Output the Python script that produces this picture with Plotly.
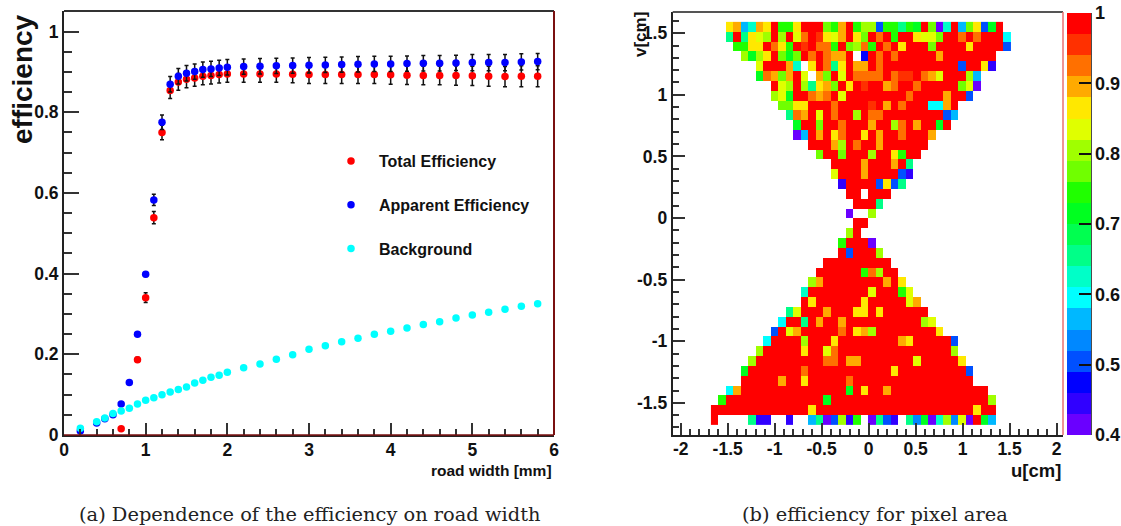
import plotly.graph_objects as go

# ---------- left panel data ----------
road_width_total = [0.7,0.9,1.0,1.1,1.2,1.3,1.4,1.5,1.6,1.7,1.8,1.9,2.0,2.2,2.4,2.6,2.8,3.0,3.2,3.4,3.6,3.8,4.0,4.2,4.4,4.6,4.8,5.0,5.2,5.4,5.6,5.8]
total_eff = [.0157,.1868,.3405,.5388,.7496,.8538,.8753,.8819,.8852,.8893,.891,.8935,.8951,.8951,.8951,.8951,.8943,.8935,.8935,.8935,.8935,.8935,.8927,.8918,.891,.891,.891,.8902,.8893,.8885,.8893,.8893]
total_err = [.002,.006,.012,.015,.018,.02,.021,.021,.021,.021,.021,.021,.021,.021,.021,.021,.021,.022,.022,.022,.022,.022,.023,.023,.023,.023,.024,.024,.025,.025,.026,.026]

road_width_apparent = [0.2,0.4,0.5,0.6,0.7,0.8,0.9,1.0,1.1,1.2,1.3,1.4,1.5,1.6,1.7,1.8,1.9,2.0,2.2,2.4,2.6,2.8,3.0,3.2,3.4,3.6,3.8,4.0,4.2,4.4,4.6,4.8,5.0,5.2,5.4,5.6,5.8]
apparent_eff = [.01,.03,.04,.05,.077,.13,.25,.3986,.5827,.7753,.8694,.8893,.8967,.9008,.9058,.9075,.91,.9116,.9133,.9141,.915,.9158,.9165,.9174,.9182,.919,.9198,.9198,.9207,.9215,.9215,.9223,.9231,.9231,.9231,.9248,.9256]
apparent_err = [.001,.001,.001,.002,.002,.003,.004,.006,.014,.018,.019,.019,.019,.019,.019,.019,.019,.019,.019,.019,.019,.019,.019,.019,.019,.019,.019,.019,.019,.019,.019,.019,.02,.02,.02,.02,.02]

road_width_bg = road_width_apparent
background = [.0165,.033,.042,.053,.0595,.066,.077,.086,.0925,.1,.1066,.113,.119,.129,.1356,.143,.148,.1554,.167,.176,.1876,.199,.2124,.2215,.2314,.2397,.2496,.2571,.2653,.2736,.281,.2902,.2975,.3042,.3116,.3191,.3256]

# ---------- right panel data: one code per cell, top row first, '.' = empty ----------
level_codes = ["R","r","O","A","Y","L","l","G","g","N","m","M","T","C","c","B","b","D","P","V"]
level_colors = ["#ff0000","#ff3000","#ff7000","#ffaa00","#ffe800","#e0ff00","#a0ff00","#70ff00","#20ff00","#00ff20",
                "#00ff50","#00ff88","#00ffc8","#00ffff","#00b8ff","#0088ff","#0050ff","#0000ff","#3000ff","#6a00ff"]
cell_rows = [
 "..YAcTAYRggYRRRGgARgllbggMgNRGVTRcGYbNR",
 "..MRMYLlRlRLORrYLARYGRORgRRYLLGRRORORRRC",
 "...ggYYROYgRrROOgRGlOgRORYRRRGRRRRYRRRRb",
 "....lNlYRGNGRORO" + "AAR.DRORORRRRR" + "ARRRRRRR",
 "......LRRRAT.YROMYRAAROR" + "RRRRRRRRR" + "bRRYP",
 "......NOAGARL.AGRLR" + "OOOO" + "RO" + "rr" + "ROAL" + "RRRlc",
 "........RLlRlMYAGRYRrRRAORRO" + "RRRRR" + "GLV",
 "........lLNRROAORL" + "RRRRRRRR" + "O" + "RRRR" + "ARRb",
 ".........GGYYRRRORRRRrRARORRRCCAR",
 "..........MOARLRORRlROO" + "RRRRRRRR" + "bc",
 "...........NRRGRRORRRARRlORARRNR",
 "...........VcRARYORRYRARRORRRA",
 ".............RRRAlRORRA" + "RRRRRR",
 "..............GRRGRRRlRRYgRR",
 "................RRRRARRRARM",
 "................LRRRARRRRbP",
 ".................PRRRRbYbM",
 "..................RR.RRR",
 "...................RRRM",
 "..................V..l",
 "...................RR",
 "..................lR",
 ".................gRRRV",
 ".................RbRRRl",
 "...............RRRRRRRRR",
 "..............RRRRRRgOlRR",
 ".............lA" + "RRRRRRRR" + "ARY",
 "............T" + "RRRRRRRR" + "LRRRgL",
 "............RY" + "RRRRRR" + "Y" + "RRRRR" + "LA",
 "..........MLRRRARRRYYRY" + "RRRRRR",
 ".........CRRMRARRA" + "RRRRRRRRRR" + "lL",
 "........bRLA" + "RRRRR" + "ORYAl" + "RRRRRRRR" + "Y",
 ".......C" + "RRRR" + "lRRRY" + "RRRRRRRR" + "AY" + "RRRRR" + "b",
 "......l" + "RRRRR" + "YRRLO" + "RRRRRRRRRRRRRRR" + "l",
 ".....l" + "RRRRRRRRR" + "OORAA" + "RRRRRRR" + "L" + "RRRRR" + "Y",
 "....N" + "RRRRRRR" + "O" + "RRRRRRRRRRR" + "Y" + "RRRRRRRRR" + "b",
 "....RRRRRARRY" + "RRRRR" + "O" + "RRRRRRRRRRRRRRRR",
 "..CA" + "RRRRRRRRRRRRRR" + "NRYRRA" + "RRRRRRRRRRRRR",
 ".g" + "RRRRRRRRRRRRR" + "N" + "RRRRRRRRRRRRRRRRRRRRR" + "l",
 "RRRRRRRRRRRRR" + "Y" + "RRRRRRRRRRRRRRRRRRRRR" + "YRR",
 "R....MPP..P..cMVblPg.VMbP.MBNVTlBLVRNc",
]
N_COLS = 40
tick_vals_bar = [0.4, 0.5, 0.6, 0.7, 0.8, 0.9, 1.0]
tick_text_bar = ["0.4", "0.5", "0.6", "0.7", "0.8", "0.9", "1"]

code_value = {c: 1.0 - 0.03 * (i + 0.5) for i, c in enumerate(level_codes)}
z = [[code_value.get(ch) for ch in row.ljust(N_COLS, ".")] for row in reversed(cell_rows)]

scale = []
for i, c in enumerate(reversed(level_colors)):
    scale += [[i / 20, c], [(i + 1) / 20, c]]

W, H = 1121, 526
def fx(p): return p / W
def fy(p): return 1 - p / H

BOLD = "Liberation Sans, Arial, sans-serif"
SERIF = "DejaVu Serif, serif"

fig = go.Figure()
def errs(arr): return dict(type="data", array=arr, color="#111", thickness=1.5, width=2)
fig.add_trace(go.Scatter(x=road_width_total, y=total_eff, error_y=errs(total_err), mode="markers", name="Total Efficiency",
                         marker=dict(color="#ff0000", size=7.5), legendgroup="a", xaxis="x", yaxis="y"))
fig.add_trace(go.Scatter(x=road_width_apparent, y=apparent_eff, error_y=errs(apparent_err), mode="markers", name="Apparent Efficiency",
                         marker=dict(color="#0000ff", size=7.5), legendgroup="b", xaxis="x", yaxis="y"))
fig.add_trace(go.Scatter(x=road_width_bg, y=background, mode="markers", name="Background",
                         marker=dict(color="#00ffff", size=7.5), legendgroup="c", xaxis="x", yaxis="y"))
fig.add_trace(go.Heatmap(z=z, x0=-1.638, dx=0.0798, y0=-1.64, dy=0.0798, zmin=0.4, zmax=1.0, colorscale=scale,
                         xaxis="x2", yaxis="y2", hoverongaps=False, showlegend=False,
                         colorbar=dict(x=fx(1067), xanchor="left", xref="paper", thickness=24, thicknessmode="pixels",
                                       y=fy(435), yanchor="bottom", yref="paper", len=422 / H, lenmode="fraction",
                                       ypad=0, xpad=0, outlinewidth=0, tickvals=tick_vals_bar, ticktext=tick_text_bar,
                                       ticks="inside", ticklen=12, tickwidth=1.5, tickcolor="#111",
                                       tickfont=dict(family=BOLD, size=18, color="#111", weight="bold"))))

axis_common = dict(showgrid=False, zeroline=False, showline=True, linecolor="#222", linewidth=2,
                   ticks="inside", tickcolor="#333", tickwidth=1.5)
def label(text, px, py, size, family=BOLD, angle=0, xanchor="center", color="#111"):
    return dict(text=text, x=fx(px), y=fy(py), xref="paper", yref="paper", textangle=angle, showarrow=False,
                xanchor=xanchor, yanchor="middle", font=dict(family=family, size=size, color=color))

fig.update_layout(
    width=W, height=H, margin=dict(l=0, r=0, t=0, b=0, autoexpand=False), autosize=False,
    paper_bgcolor="white", plot_bgcolor="white",
    xaxis=dict(domain=[fx(64), fx(554)], range=[0, 6], tickvals=[0, 1, 2, 3, 4, 5, 6], ticklen=12, anchor="y",
               ticklabelstandoff=-2,
               minor=dict(dtick=0.2, ticks="inside", ticklen=6, tickcolor="#333", tickwidth=1.5, showgrid=False),
               tickfont=dict(family=BOLD, size=17.5, color="#111", weight="bold"), **axis_common),
    yaxis=dict(domain=[fy(435), fy(11)], range=[0, 1.051], tickvals=[0, 0.2, 0.4, 0.6, 0.8, 1], ticktext=["0", "0.2", "0.4", "0.6", "0.8", "1"],
               ticklen=15, anchor="x",
               minor=dict(dtick=0.05, ticks="inside", ticklen=8, tickcolor="#333", tickwidth=1.5, showgrid=False),
               tickfont=dict(family=BOLD, size=17.5, color="#111", weight="bold"), **axis_common),
    xaxis2=dict(domain=[fx(672.7), fx(1063)], range=[-2.085, 2.069], tickvals=[-2, -1.5, -1, -0.5, 0, 0.5, 1, 1.5, 2],
                ticktext=["-2", "-1.5", "-1", "-0.5", "0", "0.5", "1", "1.5", "2"], ticklen=12, anchor="y2",
                ticklabelstandoff=-3,
                minor=dict(dtick=0.1, ticks="inside", ticklen=6, tickcolor="#333", tickwidth=1.5, showgrid=False),
                tickfont=dict(family=BOLD, size=17.5, color="#111", weight="bold"), **axis_common),
    yaxis2=dict(domain=[fy(435), fy(12)], range=[-1.761, 1.672], tickvals=[-1.5, -1, -0.5, 0, 0.5, 1, 1.5],
                ticktext=["-1.5", "-1", "-0.5", "0", "0.5", "1", "1.5"], ticklen=12, anchor="x2",
                minor=dict(dtick=0.1, ticks="inside", ticklen=6, tickcolor="#333", tickwidth=1.5, showgrid=False),
                tickfont=dict(family=BOLD, size=17.5, color="#111", weight="bold"), **axis_common),
    legend=dict(x=fx(323), y=fy(144), xanchor="left", yanchor="top", bgcolor="rgba(0,0,0,0)", itemwidth=46, tracegroupgap=20,
                font=dict(family=BOLD, size=16, color="#111", weight="bold")),
    annotations=[
        label("<b>efficiency</b>", 22, 79, 28, angle=-90),
        label("<b>road width [mm]</b>", 554, 470, 15.5, xanchor="right"),
        label("<b>v[cm]</b>", 641, 35, 17, angle=-90),
        label("<b>u[cm]</b>", 1063, 470, 18.5, xanchor="right"),
        label("(a) Dependence of the efficiency on road width", 309.5, 514, 19.4, family=SERIF, color="#222"),
        label("(b) efficiency for pixel area", 874.5, 514, 19.4, family=SERIF, color="#222"),
    ],
    shapes=[
        dict(type="line", xref="x domain", yref="y domain", x0=0, x1=1, y0=1, y1=1, line=dict(color="#333", width=2)),
        dict(type="line", xref="x domain", yref="y domain", x0=1, x1=1, y0=0, y1=1, line=dict(color="#7a1010", width=2)),
        dict(type="line", xref="x domain", yref="y domain", x0=0, x1=1, y0=0, y1=0, line=dict(color="#7a1010", width=1.5)),
        dict(type="line", xref="x2 domain", yref="y2 domain", x0=0, x1=1, y0=1, y1=1, line=dict(color="#555", width=2)),
        dict(type="line", xref="x2 domain", yref="y2 domain", x0=1, x1=1, y0=0, y1=1, line=dict(color="#e87070", width=1.5)),
        dict(type="line", xref="paper", yref="paper", x0=fx(1091), x1=fx(1091), y0=fy(435), y1=fy(13), line=dict(color="#111", width=1.5)),
    ],
)

fig.write_html("out.html", config={"displayModeBar": False},
               post_script="document.body.style.margin='0';document.body.style.overflow='hidden';")
